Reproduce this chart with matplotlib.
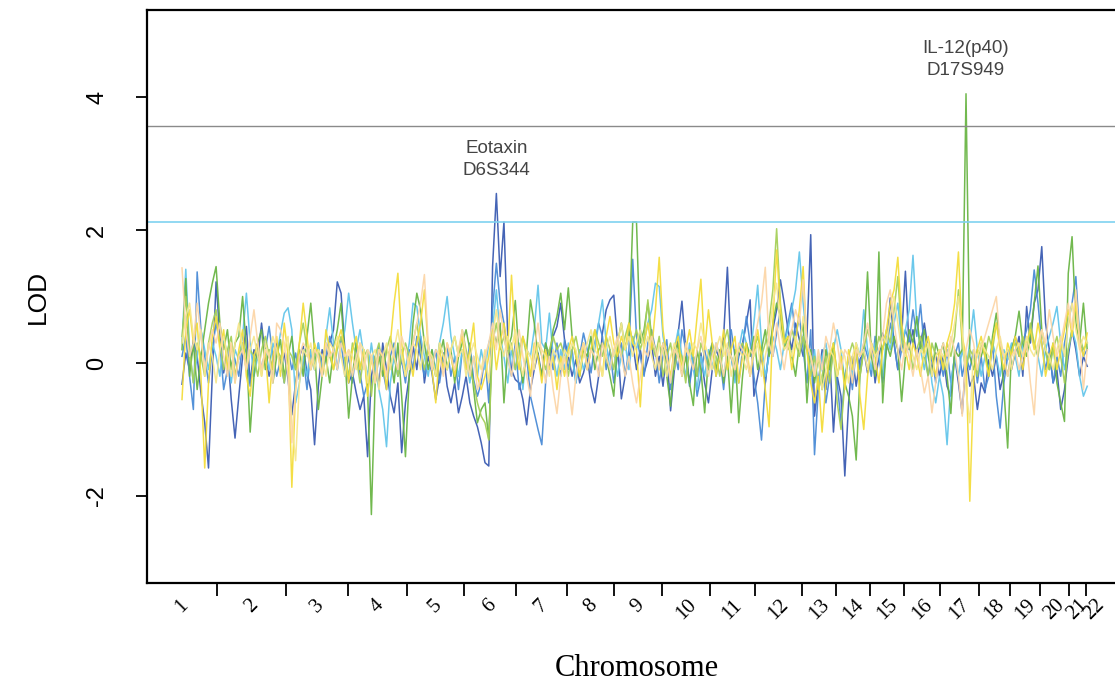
import numpy as np
import matplotlib
matplotlib.use("Agg")
import matplotlib.pyplot as plt

# chromosome lengths (cM) used for the boundary ticks
chrom_len = [280, 276, 248, 236, 228, 208, 204, 188, 192, 192, 180, 188,
             136, 136, 136, 144, 156, 124, 120, 116, 68, 68]
chrom_names = [str(i) for i in range(1, 23)]

# marker grid: first marker position and spacing (cM)
first_marker = 140.0
marker_step = 15.15

# genome scan LOD scores, one list per trait
lod_dark_blue = [
    -0.32, 0.15, -0.1, 0.35, 0.1, -0.45, -0.9, -1.58, -0.2, 1.22, 0.4, -0.15, 0.2, -0.55, -1.13, -0.5, 0.1, 0.55, -0.3, 0.2,
    0.05, 0.6, 0.1, -0.2, 0.05, 0.3, -0.1, 0.15, -0.25, -0.78, -0.3, 0.1, 0.25, -0.15, -0.4, -1.23, -0.35, 0.2, 0.05, 0.3,
    0.5, 1.22, 1.05, 0.2, -0.3, -0.15, -0.45, -0.7, -0.5, -1.41, -0.2, 0.1, -0.35, 0.3, -0.1, -0.5, -0.75, -0.3, -1.35, -0.6,
    -0.2, 0.25, -0.1, 0.4, -0.3, 0.1, -0.15, -0.55, -0.2, 0.15, -0.35, -0.6, -0.3, -0.75, -0.5, -0.2, -0.6, -0.8, -0.96, -1.2,
    -1.5, -1.55, 1.45, 2.55, 1.3, 2.12, 0.4, -0.1, -0.25, -0.3, -0.55, -0.93, -0.4, -0.1, 0.15, -0.2, 0.3, -0.05, 0.4, 0.55,
    0.9, 0.35, 0.1, -0.2, 0.05, -0.3, -0.15, 0.1, -0.35, -0.6, -0.2, 0.45, 0.8, 0.95, 1.02, 0.3, -0.54, -0.2, 0.1, 0.3,
    -0.1, 0.2, -0.15, 0.05, 0.3, -0.2, 0.1, -0.35, 0.2, -0.72, -0.1, 0.45, 0.93, 0.2, -0.3, 0.1, -0.2, 0.15, -0.3, -0.6,
    -0.1, 0.2, 0.05, 0.4, 1.44, 0.1, -0.25, 0.1, 0.3, 0.6, 0.95, -0.5, -0.2, 0.1, -0.3, 0.2, 0.5, 0.8, 1.25, 0.9,
    0.5, 0.2, 0.6, 0.35, 0.1, 0.4, 1.93, -0.8, -0.3, 0.2, -0.4, 0.15, -1.04, -0.2, -0.5, -1.7, -0.6, 0.1, -0.35, 0.05,
    0.2, -0.15, 0.3, -0.3, 0.1, 0.45, 0.2, 0.98, 0.3, -0.1, 0.4, 1.38, 0.2, 0.5, 0.1, 0.3, 0.6, 0.2, -0.1, 0.15,
    -0.2, 0.1, -0.35, -0.5, 0.1, -0.3, -0.76, 0.1, -0.35, -0.2, -0.7, -0.3, -0.45, 0.05, -0.2, 0.1, -0.4, -0.15, 0.2, -0.1,
    0.15, 0.4, -0.2, 0.85, 0.3, 0.9, 1.1, 1.75, 0.6, 0.2, -0.3, -0.1, -0.7, -0.4, 0.1, 0.5, 0.2, -0.2, 0.1, -0.05,
]
lod_mid_blue = [
    0.1, 0.4, -0.2, -0.7, 1.37, 0.5, 0.1, -0.3, 0.2, 0.6, 0.3, -0.4, -0.1, 0.25, 0.05, -0.2, 0.3, 0.15, -0.35, 0.1,
    0.3, -0.1, 0.2, 0.55, 0.1, -0.2, 0.05, -0.3, 0.2, -0.1, 0.15, -0.25, 0.1, -0.4, 0.2, -0.1, 0.3, -0.2, 0.1, 0.4,
    0.2, -0.1, 0.35, -0.2, 0.1, -0.3, 0.2, -0.15, -0.5, -0.3, 0.1, -0.2, 0.25, -0.1, -0.4, 0.1, 0.3, -0.2, 0.05, -0.3,
    0.2, -0.1, 0.4, 0.1, -0.2, 0.3, -0.15, 0.2, -0.3, 0.1, 0.25, -0.2, 0.1, -0.4, 0.2, -0.1, 0.3, -0.25, -0.5, -0.3,
    0.1, -0.6, 0.8, 1.5, 0.9, 0.6, 0.1, -0.2, 0.3, -0.4, -0.2, 0.1, -0.5, -0.75, -1.0, -1.23, -0.3, 0.2, -0.1, 0.3,
    -0.2, 0.35, -0.1, 0.2, -0.3, 0.1, 0.45, 0.2, -0.15, 0.3, 0.6, 0.4, -0.1, 0.2, -0.3, 0.1, 0.3, -0.2, 0.2, 1.56,
    0.4, 0.1, -0.2, 0.3, 0.5, 0.2, -0.3, 0.1, 0.35, -0.4, 0.2, -0.1, 0.5, 0.2, -0.35, 0.1, -0.5, -0.2, 0.2, -0.1,
    0.3, -0.2, 0.1, -0.4, 0.2, 0.5, 0.1, -0.3, 0.2, 0.7, 0.3, -0.2, -0.6, -1.16, -0.3, 0.2, 0.1, 0.45, 0.8, 0.3,
    0.6, 0.9, 0.4, 0.7, 0.2, -0.3, 0.5, -1.38, -0.4, 0.1, -0.6, -0.2, 0.2, -0.3, -0.9, -0.2, 0.1, -0.4, 0.2, -0.1,
    0.3, 0.1, -0.2, 0.4, 0.1, -0.3, 0.2, 0.6, 0.3, -0.1, 0.2, 0.5, 0.3, 0.8, 0.4, 0.88, 0.2, -0.2, 0.1, -0.3,
    0.1, -0.2, 0.2, -0.3, 0.1, 0.3, -0.2, 0.1, -0.1, 0.2, -0.3, 0.1, -0.4, -0.2, 0.3, -0.5, -0.98, -0.3, 0.1, 0.2,
    0.4, 0.1, 0.3, 0.5, 0.8, 1.4, 0.9, 0.3, -0.1, 0.2, -0.3, 0.1, -0.2, 0.3, 0.6, 0.9, 1.3, 0.4, 0.1, 0.2,
]
lod_light_blue = [
    0.3, 1.41, 0.2, -0.3, 0.1, 0.5, 0.2, -0.1, 0.3, 0.1, -0.2, 0.4, 0.1, -0.3, 0.2, 0.05, 0.4, 1.05, 0.3, -0.2,
    0.1, -0.15, 0.2, -0.1, 0.3, 0.1, 0.45, 0.75, 0.83, 0.5, -0.6, -0.3, 0.1, -0.2, 0.2, -0.1, 0.3, -0.2, 0.4, 0.83,
    0.3, -0.1, 0.2, 0.5, 1.05, 0.6, 0.2, 0.5, 0.1, -0.2, 0.3, -0.1, -0.4, -0.7, -1.26, -0.3, 0.1, -0.2, 0.2, -0.1,
    0.3, 0.9, 0.85, 0.4, 0.1, -0.2, 0.2, -0.1, 0.3, 0.6, 1.0, 0.4, 0.1, -0.2, 0.2, 0.05, -0.3, 0.1, -0.2, 0.2,
    -0.1, 0.3, 0.5, 1.1, 0.4, 0.1, -0.3, 0.2, -0.1, 0.3, -0.4, 0.2, 0.1, 0.5, 1.17, 0.3, 0.2, 0.75, 0.1, -0.2,
    0.2, -0.1, 0.3, 0.1, -0.3, 0.2, -0.1, 0.1, 0.4, 0.2, 0.6, 0.95, 0.3, -0.1, 0.2, -0.2, 0.1, 0.3, -0.1, 0.4,
    0.2, 0.5, 0.3, 0.6, 0.8, 1.2, 1.15, 0.4, 0.1, -0.3, 0.2, 0.5, 0.1, -0.2, 0.3, -0.1, -0.4, 0.1, -0.2, 0.2,
    -0.1, 0.3, 0.1, -0.2, 0.2, 0.1, -0.3, 0.2, 0.5, 0.3, 0.1, 0.6, 1.17, 0.3, -0.2, 0.1, 0.4, 0.2, -0.1, 0.3,
    0.5, 0.8, 1.1, 1.67, 0.9, 0.3, -0.2, 0.2, -0.4, 0.1, 0.3, -0.1, 0.2, 0.5, 0.2, -0.3, 0.1, -0.2, 0.3, 0.1,
    0.8, 0.2, -0.1, 0.3, 0.1, -0.2, 0.4, 0.2, 0.6, 0.9, 0.3, 0.5, 0.8, 1.62, 0.6, 0.2, -0.1, 0.3, -0.3, -0.6,
    -0.2, -0.5, -1.23, -0.3, 0.1, -0.2, 0.2, -0.1, 0.3, 0.8, 0.2, -0.2, 0.1, -0.1, 0.3, 0.1, -0.2, 0.2, 0.05, 0.3,
    0.1, -0.2, 0.3, 0.2, 0.5, 0.3, 0.1, -0.2, 0.2, 0.4, 0.6, 0.85, 0.3, -0.1, 0.2, 0.5, 0.3, -0.2, -0.5, -0.35,
]
lod_green = [
    0.2, 1.27, -0.2, 0.3, -0.4, 0.1, 0.5, 0.9, 1.2, 1.45, 0.6, 0.2, 0.5, -0.1, 0.3, 0.4, 1.0, 0.2, -1.04, -0.2,
    0.3, 0.5, -0.1, 0.2, -0.3, 0.1, 0.35, -0.2, 0.1, 0.4, -0.1, 0.2, -0.2, 0.4, 0.9, 0.2, -0.7, -0.2, 0.1, -0.3,
    0.2, 0.5, 0.9, 0.1, -0.83, -0.2, 0.3, -0.1, 0.2, -0.4, -2.28, -0.3, 0.1, -0.2, 0.2, 0.1, -0.3, 0.3, -0.5, -1.41,
    -0.2, 0.6, 1.05, 0.8, 0.3, -0.1, 0.2, -0.2, 0.1, 0.35, -0.1, 0.2, -0.3, 0.1, 0.3, 0.5, 0.2, -0.4, -0.9, -0.7,
    -0.6, -1.15, 0.5, 0.3, 0.6, -0.6, 0.2, 0.4, 0.94, 0.1, -0.3, 0.2, 0.95, 0.6, 0.1, -0.2, 0.3, 0.1, 0.5, 0.7,
    1.05, 0.5, 1.13, 0.4, 0.1, -0.2, 0.2, 0.1, 0.4, -0.1, 0.2, 0.3, 0.1, -0.2, -0.5, 0.3, 0.6, 0.2, 0.4, 2.12,
    2.12, 0.3, 0.5, 0.9, 0.4, 0.2, -0.1, 0.3, -0.2, -0.65, 0.1, 0.3, -0.2, 0.1, -0.3, -0.64, 0.2, -0.1, -0.75, 0.1,
    0.3, -0.1, 0.2, -0.3, 0.1, -0.75, 0.2, -0.9, -0.2, 0.3, 0.1, 0.4, -0.1, 0.2, 0.5, 0.1, 0.6, 0.9, 0.7, 0.2,
    0.4, 0.1, -0.2, 0.3, 0.6, -0.6, 0.2, -0.3, 0.1, -0.4, 0.2, -0.1, 0.3, -0.2, 0.1, -0.3, -0.5, -0.8, -1.46, -0.2,
    0.2, 1.37, 0.1, -0.2, 1.67, -0.6, 0.3, 0.1, 0.4, 0.2, -0.58, 0.1, 0.5, 0.3, 0.7, 0.2, 0.5, 0.1, -0.2, 0.3,
    0.1, 0.3, -0.2, -0.76, 0.2, 0.1, 0.2, 4.05, 0.1, -0.1, 0.2, 0.1, 0.3, -0.2, 0.4, 0.75, 0.3, -0.4, -1.28, 0.2,
    0.4, 0.78, 0.3, 0.1, 0.4, 0.9, 1.46, 0.5, 0.2, -0.1, 0.3, -0.3, -0.6, -0.88, 1.35, 1.9, 0.6, 0.3, 0.9, 0.2,
]
lod_lime = [
    0.4, 1.0, 0.2, -0.3, 0.3, 0.1, -0.2, 0.3, 0.6, 0.8, 0.3, -0.1, 0.2, 0.4, -0.2, 0.1, 0.3, -0.1, 0.2, 0.1,
    -0.2, 0.2, 0.4, 0.1, -0.1, 0.2, 0.1, -0.3, 0.2, 0.1, -0.1, 0.3, 0.6, 0.2, -0.1, 0.1, 0.2, -0.2, 0.3, 0.1,
    -0.1, 0.2, 0.4, 0.1, -0.2, 0.3, 0.1, -0.3, 0.1, 0.2, -0.5, 0.1, 0.3, -0.1, 0.2, 0.4, 0.1, -0.2, 0.1, 0.3,
    0.1, 0.3, 0.6, 0.2, -0.1, 0.2, 0.1, -0.2, 0.3, 0.1, -0.1, 0.2, 0.4, 0.1, 0.5, 0.2, -0.1, -0.3, -0.6, -0.8,
    -0.9, -1.16, 0.3, 0.6, 0.2, 0.4, 0.1, 0.3, -0.1, 0.2, 0.4, 0.1, -0.2, 0.1, 0.3, 0.1, -0.1, 0.2, 0.4, 0.2,
    0.3, 0.1, -0.2, 0.2, 0.4, 0.1, 0.3, -0.1, 0.2, 0.5, 0.3, 0.1, 0.4, 0.2, -0.1, 0.3, 0.1, 0.4, 0.6, 0.3,
    0.5, 0.2, 0.4, 0.95, 0.3, 0.1, 0.4, -0.2, 0.1, 0.3, -0.1, 0.2, 0.1, -0.3, 0.2, 0.1, -0.2, 0.3, 0.1, -0.1,
    0.2, 0.1, -0.2, 0.3, 0.5, 0.1, -0.1, 0.2, 0.3, 0.1, -0.2, 0.2, 0.4, 0.1, 0.3, 0.6, 1.1, 2.02, 0.9, 0.4,
    0.2, 0.5, 0.3, 0.1, 0.4, 0.2, -0.2, 0.1, -0.4, -0.2, 0.1, -0.3, 0.2, -0.6, -1.0, -0.3, 0.1, 0.3, 0.1, -0.2,
    0.2, 0.5, 0.3, 0.1, 0.4, 0.2, 0.5, 0.3, 0.8, 1.3, 0.4, 0.1, 0.3, -0.1, 0.2, 0.4, 0.1, -0.2, 0.3, 0.1,
    0.2, -0.1, 0.3, 0.1, 0.4, 1.1, 0.3, -0.1, 0.2, 0.1, -0.2, 0.3, 0.1, 0.4, 0.2, 0.6, 0.3, 0.1, -0.2, 0.2,
    0.3, 0.1, 0.4, 0.2, 0.6, 0.3, 0.1, 0.5, 0.2, -0.1, 0.2, 0.4, 0.1, -0.3, 0.2, 0.5, 1.0, 0.4, 0.2, 0.3,
]
lod_yellow = [
    -0.55, 0.5, 0.8, 0.3, 0.6, -0.2, -1.58, -0.3, 0.4, 0.7, 0.2, 0.5, -0.1, 0.3, -0.3, 0.2, 0.5, -0.2, -0.5, 0.1,
    0.3, -0.2, 0.2, -0.6, 0.1, 0.4, -0.2, 0.6, 0.1, -1.87, -0.4, 0.3, 0.9, 0.4, -0.1, 0.3, 0.1, -0.2, 0.5, 0.2,
    -0.1, 0.3, 0.5, 0.2, -0.3, 0.2, 0.4, -0.1, 0.2, -0.5, 0.1, -0.3, 0.2, 0.1, -0.4, 0.3, 0.9, 1.35, 0.3, -0.2,
    0.1, -0.2, 0.3, 0.6, 1.1, 0.2, -0.1, -0.6, 0.2, -0.1, 0.3, 0.1, -0.2, 0.2, 0.4, -0.1, 0.2, 0.6, -0.2, -0.4,
    -0.2, 0.1, 0.5, -0.1, 0.3, 0.6, 0.2, 1.32, 0.3, -0.1, 0.4, 0.2, -0.2, 0.3, 0.1, -0.3, 0.2, -0.1, 0.1, -0.4,
    0.1, -0.2, 0.2, 0.4, 0.1, -0.2, 0.3, -0.1, 0.2, 0.5, 0.1, -0.2, 0.4, 0.7, 0.3, 0.1, 0.4, 0.2, 0.6, 0.3,
    0.2, -0.66, 0.3, 0.6, 0.2, 0.8, 1.59, 0.5, 0.1, -0.2, 0.2, 0.4, -0.1, 0.2, 0.5, 0.1, 0.7, 1.26, 0.2, 0.8,
    0.3, -0.2, 0.1, 0.5, -0.1, 0.2, 0.4, -0.3, 0.1, 0.3, -0.2, 0.2, 0.5, 0.1, -0.4, -0.96, 0.6, 1.7, 0.8, 0.3,
    0.4, -0.1, 0.3, 0.8, 1.45, 0.2, -0.3, -0.6, -0.2, -1.04, -0.3, 0.1, 0.3, -0.2, 0.1, -0.4, 0.2, -0.1, 0.3, -0.5,
    -1.0, -0.2, 0.3, 0.1, -0.3, 0.2, 0.5, 0.9, 1.1, 1.59, 0.6, 0.2, -0.1, 0.3, 0.1, -0.2, 0.2, 0.4, 0.1, -0.2,
    0.2, -0.1, 0.3, 0.5, 0.9, 1.67, 0.4, 0.1, -2.08, -0.3, 0.2, 0.4, 0.1, -0.2, 0.3, 0.6, 0.2, -0.1, 0.3, 0.1,
    0.4, 0.2, -0.1, 0.3, 0.5, 0.2, 0.6, 0.3, -0.2, 0.1, 0.3, -0.1, 0.2, 0.5, 0.8, 0.4, 0.9, 0.3, 0.1, 0.45,
]
lod_pale_yellow = [
    0.3, 0.7, 0.9, 0.4, 0.2, 0.5, -0.2, 0.3, 0.1, -0.3, 0.2, 0.4, 0.1, -0.2, 0.3, 0.6, 0.2, -0.1, 0.2, 0.4,
    0.1, -0.2, 0.3, 0.1, 0.4, 0.2, -0.1, 0.2, 0.4, -0.9, -1.47, -0.3, 0.2, 0.1, 0.3, -0.1, 0.2, 0.1, -0.2, 0.3,
    0.2, 0.4, 0.1, -0.2, 0.2, 0.1, -0.1, 0.3, 0.2, -0.3, 0.1, 0.2, -0.4, 0.1, 0.3, -0.1, 0.2, 0.5, 0.1, -0.2,
    0.1, 0.3, 0.2, -0.1, 0.4, 0.2, 0.1, -0.2, 0.3, 0.1, -0.1, 0.2, 0.4, 0.1, 0.2, -0.2, 0.1, 0.3, 0.1, -0.1,
    0.2, -0.3, 0.4, 0.8, 0.3, 0.1, 0.4, 0.2, 0.5, 0.1, -0.2, 0.2, 0.1, -0.1, 0.3, 0.2, 0.1, -0.2, 0.2, 0.1,
    -0.1, 0.2, 0.1, 0.3, 0.2, -0.1, 0.1, 0.3, 0.5, 0.2, 0.1, -0.2, 0.2, 0.4, 0.1, 0.3, 0.6, 0.2, 0.4, 0.1,
    0.3, 0.5, 0.2, 0.4, 0.1, -0.1, 0.3, 0.2, -0.2, 0.1, 0.3, 0.1, -0.1, 0.2, 0.1, 0.3, 0.2, 0.6, 0.3, 0.1,
    -0.1, 0.2, 0.4, 0.1, 0.3, -0.2, 0.1, 0.2, 0.1, -0.1, 0.2, 0.1, 0.3, -0.2, 0.1, 0.4, 0.9, 1.2, 0.5, 0.2,
    0.3, 0.1, 0.4, 0.2, 0.7, 0.3, 0.1, -0.2, 0.1, -0.4, -0.1, 0.2, 0.1, -0.2, 0.2, 0.1, -0.3, 0.1, 0.3, 0.1,
    0.2, -0.1, 0.3, 0.1, 0.2, 0.4, 0.3, 0.7, 1.0, 0.6, 0.2, 0.1, 0.3, 0.1, -0.1, 0.2, 0.1, 0.3, -0.2, 0.1,
    0.2, 0.1, -0.1, 0.3, 0.6, 1.0, 0.5, -0.4, -0.9, 0.2, 0.1, 0.3, 0.2, 0.1, -0.1, 0.2, 0.4, 0.1, 0.2, -0.1,
    0.2, 0.3, 0.1, 0.4, 0.2, 0.1, 0.3, 0.5, 0.2, 0.1, -0.1, 0.2, 0.4, 0.1, 0.6, 0.9, 0.5, 0.2, 0.4, 0.3,
]
lod_peach = [
    1.43, 0.5, 0.1, 0.3, 0.9, 0.4, -0.1, 0.2, 0.5, 0.3, 0.6, 0.1, -0.2, 0.3, -0.3, 0.1, 0.2, -0.1, 0.4, 0.8,
    0.3, -0.1, 0.2, 0.1, -0.3, 0.6, 0.5, 0.3, -0.2, -1.2, -0.4, 0.1, 0.3, 0.2, -0.1, 0.2, 0.1, -0.2, 0.3, 0.1,
    0.2, -0.1, 0.3, 0.1, 0.2, -0.2, 0.1, 0.3, -0.1, 0.2, 0.1, -0.3, 0.2, 0.1, -0.2, 0.3, 0.1, -0.1, 0.4, 0.2,
    -0.1, 0.3, 0.6, 0.9, 1.33, 0.3, -0.1, 0.2, 0.1, -0.2, 0.3, 0.1, -0.1, 0.2, 0.5, 0.1, -0.2, 0.1, -0.4, -0.2,
    0.1, 0.3, 0.6, 0.2, 0.8, 0.4, 0.1, -0.2, 0.2, 0.5, 0.1, -0.2, -0.5, 0.2, 0.6, 0.1, -0.3, 0.1, -0.4, -0.76,
    -0.2, 0.1, -0.3, -0.78, -0.2, 0.1, 0.3, -0.1, 0.2, 0.1, -0.2, 0.3, 0.1, -0.1, 0.2, 0.4, 0.1, -0.2, 0.1, -0.3,
    -0.6, -0.2, 0.2, 0.1, 0.4, 0.2, -0.1, 0.3, 0.1, -0.3, 0.2, 0.1, -0.2, 0.3, 0.1, -0.1, 0.2, 0.4, 0.1, -0.2,
    0.1, 0.3, 0.1, -0.2, 0.2, 0.1, -0.1, 0.3, 0.2, 0.1, -0.2, 0.3, 0.6, 0.9, 1.44, 0.3, 0.1, 0.6, 0.2, -0.1,
    0.3, 0.5, 0.8, 0.6, 1.25, 0.3, 0.1, -0.2, 0.2, -0.1, 0.4, 0.2, 0.6, 0.3, -0.1, 0.2, 0.1, -0.3, 0.2, 0.1,
    0.3, 0.6, 0.2, -0.1, 0.2, 0.4, 0.9, 1.1, 0.6, 0.2, -0.1, 0.3, 0.1, -0.2, 0.2, -0.1, -0.45, -0.2, -0.75, -0.3,
    0.1, 0.3, 0.1, 0.4, 0.2, -0.2, -0.8, 0.2, 0.5, 0.3, -0.1, 0.2, 0.4, 0.6, 0.8, 1.0, 0.3, 0.1, -0.2, 0.1,
    0.2, -0.1, 0.1, 0.3, -0.3, -0.78, 0.2, 0.5, 0.3, 0.8, 0.4, 0.1, 0.3, 0.6, 0.9, 0.5, 1.1, 0.3, -0.4, 0.2,
]

series = [
    (lod_dark_blue, "#3b5cb2"),
    (lod_mid_blue, "#4a8bd6"),
    (lod_light_blue, "#63c5ea"),
    (lod_green, "#6ab545"),
    (lod_lime, "#a6d05a"),
    (lod_yellow, "#f4dd3c"),
    (lod_pale_yellow, "#f6e78e"),
    (lod_peach, "#fcd6a8"),
]

# significance thresholds
lod_suggestive = 2.12
lod_significant = 3.56

peaks = [
    ("Eotaxin\nD6S344", lod_dark_blue),
    ("IL-12(p40)\nD17S949", lod_green),
]

fig = plt.figure(figsize=(11.15, 6.83), dpi=100)
ax = fig.add_axes([147 / 1115, 100 / 683, 980 / 1115, 573 / 683])

n = len(lod_dark_blue)
pos = first_marker + marker_step * np.arange(n)
for vals, col in series:
    ax.plot(pos, vals, color=col, lw=1.1, alpha=0.95)

ax.axhline(lod_significant, color="#8a8a8a", lw=1.0)
ax.axhline(lod_suggestive, color="#7fd2f0", lw=1.2)

for txt, vals in peaks:
    i = int(np.argmax(vals))
    ax.text(pos[i], vals[i] + 0.22, txt, ha="center", va="bottom",
            fontsize=13.5, color="#444444", family="Liberation Sans",
            linespacing=1.4)

bounds = np.cumsum(chrom_len)
mids = bounds - np.array(chrom_len) / 2.0
ax.set_xlim(0, 3920)
ax.set_ylim(-3.31, 5.31)

ax.set_xticks(bounds[:-1])
ax.set_xticklabels([])
ax.tick_params(axis="x", length=9, width=1.3, direction="out")
ax.set_xticks(mids, minor=True)
ax.set_xticklabels(chrom_names, minor=True, rotation=45, fontsize=15,
                   family="Liberation Serif", ha="center", va="top")
ax.tick_params(axis="x", which="minor", length=0, pad=9)

ax.set_yticks([-2, 0, 2, 4])
ax.set_yticklabels(["-2", "0", "2", "4"], rotation=90, va="center",
                   fontsize=17, family="Liberation Sans")
ax.tick_params(axis="y", length=8, width=1.3, pad=20)

ax.set_ylabel("LOD", fontsize=19, family="Liberation Sans", labelpad=26)
ax.set_xlabel("Chromosome", fontsize=22, family="Liberation Serif", labelpad=22)

for s in ["left", "bottom", "top", "right"]:
    ax.spines[s].set_linewidth(1.6)

plt.savefig("out.png", dpi=100)
plt.close()
